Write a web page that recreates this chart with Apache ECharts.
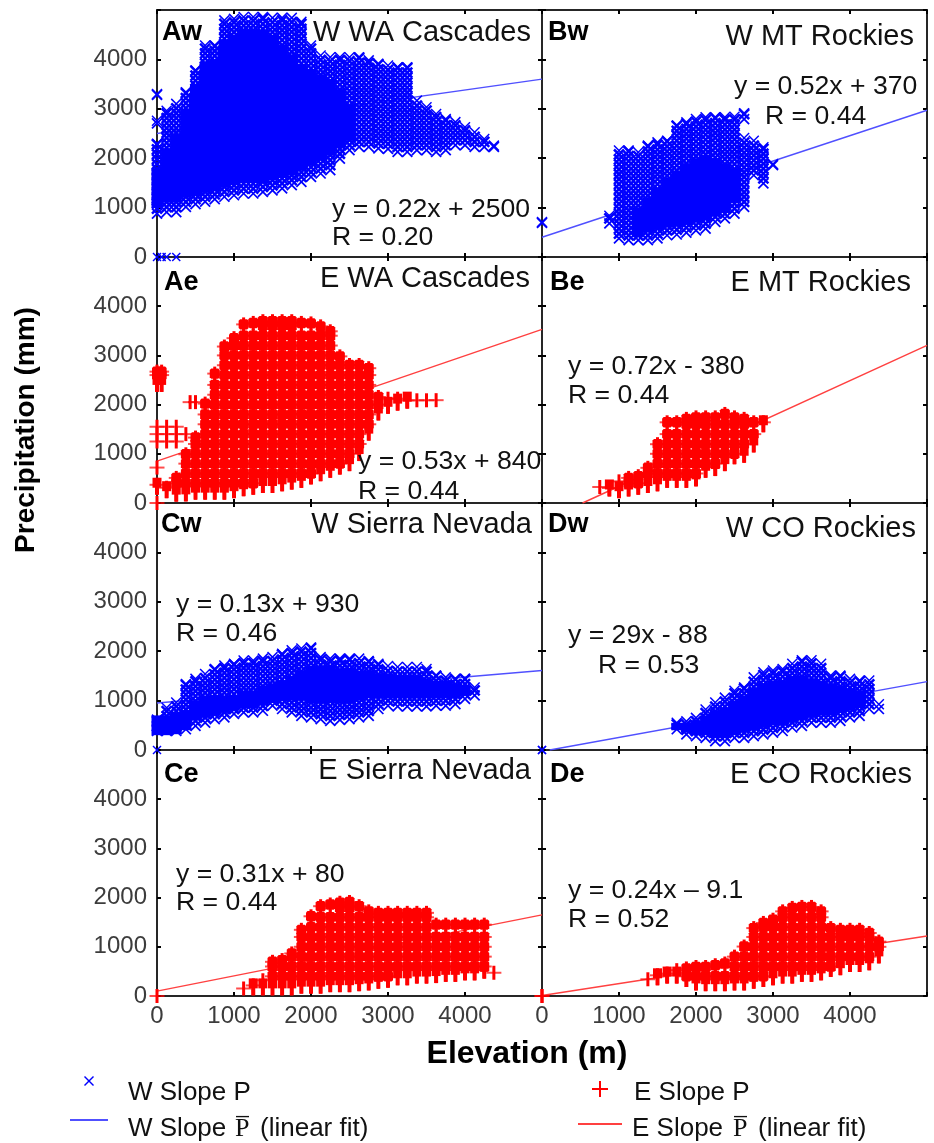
<!DOCTYPE html>
<html><head><meta charset="utf-8">
<style>html,body{margin:0;padding:0;background:#fff}#c{width:934px;height:1143px}</style>
<script src="https://cdn.jsdelivr.net/npm/echarts@6/dist/echarts.min.js"></script>
</head><body><div id="c"></div>
<script>
// Column envelopes: [elevation, low P, high P, solid-core low, solid-core high]
const Aw_cols=[[0,790,2380,1000,1800],[0,2615,2850],[0,3190,3390],[0,0,0],[60,0,0],[125,0,0],[250,0,0],
[125,820,3050,1100,2200],[250,820,3190,1100,2500],[375,925,3425,1200,3000],[500,980,3865,1250,3500],[625,1030,4370,1300,3950],[750,1080,4370,1350,4000],[875,1130,4880,1400,4400],[1000,1160,4910,1450,4500],[1125,1195,4950,1500,4600],[1250,1195,4950,1500,4600],[1375,1230,4950,1500,4600],[1500,1260,4930,1550,4500],[1625,1300,4930,1600,4300],[1750,1365,4930,1650,4100],[1875,1430,4850,1750,3900],[2000,1530,4370,1850,3800],[2125,1600,4170,1950,3700],[2250,1670,4135,2050,3600],[2375,1900,4135,2200,3400],[2500,2075,4135,2350,3100],[2625,2140,4135],[2750,2140,4070],[2875,2110,4000],[3000,2100,3965],[3125,2040,3930],[3250,2040,3930],[3375,2075,3255],[3500,2075,3120],[3625,2040,2985],[3750,2075,2885],[3875,2175,2820],[4000,2175,2715],[4125,2140,2615],[4250,2140,2480],[4375,2140,2345]];
const Bw_cols=[[0,600,800],[875,590,925],[1000,285,2245],[1125,250,2245],[1250,250,2210,400,1000],[1375,250,2345,500,1200],[1500,285,2410,550,1400],[1625,350,2445,600,1600],[1750,365,2750,620,1750],[1875,405,2815,650,1900],[2000,450,2885,700,2000],[2125,485,2920,750,2050],[2250,620,2920,820,2000],[2375,690,2920,900,1900],[2500,790,2930,1100,1800],[2625,925,2500],[2625,2700,3000],[2750,1565,2445],[2875,1400,2310],[3000,1770,1970]];
const Ae_cols=[[0,2260,2810],[60,2260,2810],[0,1550,1550],[0,1400,1400],[0,1250,1250],[0,580,860],[0,170,510],[0,0,0],[125,1550,1550],[125,1400,1400],[125,1250,1250],[125,100,450],[250,1550,1550],[250,1400,1400],[250,1250,1250],[250,30,650],[375,35,1130],[375,1400,1400],[430,2050,2050],[500,70,1470],[500,1950,2150],[625,70,2160],[750,70,2770],[875,70,3320],[1000,100,3490],[1125,140,3770],[1250,170,3800],[1375,205,3835],[1500,205,3835],[1625,240,3835],[1750,275,3835],[1875,310,3800],[2000,380,3790],[2125,445,3730],[2250,515,3630],[2375,580,3120],[2500,650,2945],[2625,855,2945],[2750,1270,2880],[2875,1680,2295],[3000,1815,2260],[3125,1880,2260],[3250,1920,2225],[3375,1950,2225],[3500,1950,2225],[3625,1990,2190]];
const Be_cols=[[750,240,410],[875,135,445],[1000,100,580],[1125,135,650],[1250,170,685],[1375,205,855],[1500,240,1335],[1625,310,1780],[1750,310,1780],[1875,310,1850],[2000,340,1880],[2125,515,1880],[2250,550,1880],[2375,650,1950],[2500,790,1880],[2625,820,1850],[2750,1030,1780],[2875,1440,1780]];
const Cw_cols=[[0,0,0],[5000,0,0],[0,295,705,300,700],[125,295,945,300,700],[250,295,1050,320,750],[375,330,1425,400,800],[500,400,1530,600,1000],[625,465,1630,650,1100],[750,535,1730,700,1100],[875,570,1800,750,1100],[1000,640,1835,800,1100],[1125,670,1900,850,1200],[1250,670,1900,850,1200],[1375,705,1940,900,1300],[1500,810,1970,950,1350],[1625,740,2040,1000,1400],[1750,670,2110,1000,1500],[1875,600,2145,1000,1600],[2000,570,2165,950,1700],[2125,535,1970,950,1700],[2250,500,1940,950,1700],[2375,520,1940,950,1650],[2500,535,1940,950,1650],[2625,570,1940,1000,1600],[2750,600,1890,1050,1600],[2875,740,1835,1050,1550],[3000,810,1790,1050,1550],[3125,795,1770,1050,1500],[3250,795,1770,1050,1500],[3375,795,1770,1050,1500],[3500,795,1730,1050,1450],[3625,810,1595,1050,1400],[3750,810,1560,1050,1400],[3875,840,1530,1050,1350],[4000,945,1530,1100,1300],[4125,1015,1355]];
const Dw_cols=[[0,0,0],[1750,330,640,400,550],[1875,225,670,350,550],[2000,190,740,300,600],[2125,155,910,300,700],[2250,90,1050,250,800],[2375,90,1150,250,850],[2500,155,1290,300,1000],[2625,155,1355,350,1100],[2750,190,1560,400,1250],[2875,225,1665,450,1350],[3000,260,1700,500,1400],[3125,295,1730,500,1400],[3250,365,1835,550,1500],[3375,400,1905,600,1500],[3500,465,1905,650,1450],[3625,465,1835,700,1400],[3750,465,1595,700,1350],[3875,500,1595,750,1300],[4000,570,1530,800,1250],[4125,600,1495,850,1200],[4250,740,1495],[4375,740,1015]];
const Ce_cols=[[0,0,0],[5000,0,0],[1125,50,255],[1250,15,355],[1375,15,460],[1500,15,835],[1625,15,870],[1750,15,1005],[1875,50,1485],[2000,50,1760],[2125,50,1965],[2250,80,2000],[2375,80,2035],[2500,80,2050],[2625,100,1965],[2750,115,1860],[2875,150,1830],[3000,170,1830],[3125,220,1830],[3250,220,1830],[3375,255,1830],[3500,255,1830],[3625,265,1590],[3750,290,1590],[3875,290,1590],[4000,320,1590],[4125,320,1590],[4250,355,1590],[4375,420,525]];
const De_cols=[[0,0,0],[1375,220,460],[1500,220,560],[1625,255,595],[1750,255,665],[1875,185,700],[2000,115,730],[2125,100,730],[2250,100,765],[2375,100,800],[2500,115,940],[2625,115,1145],[2750,150,1520],[2875,185,1625],[3000,220,1690],[3125,255,1860],[3250,255,1930],[3375,290,1950],[3500,290,1950],[3625,320,1860],[3750,390,1520],[3875,425,1485],[4000,490,1485],[4125,490,1485],[4250,525,1420],[4375,665,1245]];
// Fit lines
const Aw_fit=[[0,2500],[5000,3600]];
const Bw_fit=[[0,400],[5000,2970]];
const Ae_fit=[[0,850],[5000,3530]];
const Be_fit=[[527,0],[5000,3205]];
const Cw_fit=[[0,950],[5000,1610]];
const Dw_fit=[[100,0],[5000,1385]];
const Ce_fit=[[0,100],[5000,1650]];
const De_fit=[[0,10],[5000,1220]];

const W_SCATTER='W Slope P', E_SCATTER='E Slope P', W_FIT='W Slope fit', E_FIT='E Slope fit';
const BLUE='#0000ff', RED='#ff0000', BLUE_L='#5050ff', RED_L='#ff4040', FRAME='#262626';
const FONT='"Liberation Sans", Arial, sans-serif';
const X_ICON='path://M0 1L1 0L5 4L9 0L10 1L6 5L10 9L9 10L5 6L1 10L0 9L4 5Z';
const P_ICON='path://M7 0H9V7H16V9H9V16H7V9H0V7H7Z';

const panels=[
 {cols:Aw_cols,fit:Aw_fit,w:true},{cols:Bw_cols,fit:Bw_fit,w:true},
 {cols:Ae_cols,fit:Ae_fit,w:false},{cols:Be_cols,fit:Be_fit,w:false},
 {cols:Cw_cols,fit:Cw_fit,w:true},{cols:Dw_cols,fit:Dw_fit,w:true},
 {cols:Ce_cols,fit:Ce_fit,w:false},{cols:De_cols,fit:De_fit,w:false}];
const lefts=[157,542], tops=[10,257,503,750], gw=385, gh=[247,246,247,246];

function xGlyph(c,s,wd,col){
  return [{type:'line',shape:{x1:c[0]-s,y1:c[1]-s,x2:c[0]+s,y2:c[1]+s},style:{stroke:col,lineWidth:wd}},
          {type:'line',shape:{x1:c[0]-s,y1:c[1]+s,x2:c[0]+s,y2:c[1]-s},style:{stroke:col,lineWidth:wd}}];
}
function renderWest(p,api){
  const x=api.value(0),lo=api.value(1),hi=api.value(2),cl=api.value(3),ch=api.value(4);
  const kids=[];
  if(lo===hi){return {type:'group',children:xGlyph(api.coord([x,lo]),4,1.4,BLUE)};}
  const a=lo+90,b=hi-90;
  if(hi-lo<=180){kids.push(...xGlyph(api.coord([x,(lo+hi)/2]),5,1.7,BLUE));}
  else{
    for(let y=a;y<b;y+=100){
      const edge=(y===a);
      kids.push(...xGlyph(api.coord([x,y]),5,edge?1.7:2.5,BLUE));
    }
    kids.push(...xGlyph(api.coord([x,b]),5,1.5,BLUE));
  }
  if(cl===cl&&ch===ch&&cl!=null&&ch!=null){
    const t=api.coord([x,ch]),bt=api.coord([x,cl]);
    kids.push({type:'rect',shape:{x:t[0]-5.5,y:t[1],width:11,height:bt[1]-t[1]},style:{fill:BLUE}});
  }
  return {type:'group',children:kids};
}
function plus(c,col,armOnly){
  const out=[{type:'rect',shape:{x:c[0]-1.5,y:c[1]-7,width:3,height:14},style:{fill:col}}];
  if(!armOnly) out.push({type:'rect',shape:{x:c[0]-7.5,y:c[1]-1,width:15,height:2},style:{fill:col,opacity:.7}});
  return out;
}
function renderEast(p,api){
  const x=api.value(0),lo=api.value(1),hi=api.value(2);
  if(lo===hi){return {type:'group',children:plus(api.coord([x,lo]),RED)};}
  const a=lo+140,b=hi-140,rows=[];
  if(b<=a){rows.push((lo+hi)/2);}
  else{
    rows.push(a);
    for(let y=Math.ceil(a/200)*200;y<b;y+=200){ if(y-a>60&&b-y>60) rows.push(y); }
    rows.push(b);
  }
  const kids=[];
  rows.forEach((y,i)=>{
    const c=api.coord([x,y]);
    const bottom=(i===0&&rows.length>1);
    kids.push(...plus(c,RED,bottom));
    if(bottom){
      kids.push({type:'rect',shape:{x:c[0]-2,y:c[1]-8,width:4,height:15},style:{fill:RED}});
      kids.push({type:'rect',shape:{x:c[0]-4.5,y:c[1]-10,width:9,height:10},style:{fill:RED}});
    }
    if(i>0&&rows.length>2){
      const h=5.2,w=5,k=1.5;
      kids.push({type:'polygon',shape:{points:[[c[0]-w+k,c[1]-h],[c[0]+w-k,c[1]-h],[c[0]+w,c[1]-h+k],[c[0]+w,c[1]+h-k],[c[0]+w-k,c[1]+h],[c[0]-w+k,c[1]+h],[c[0]-w,c[1]+h-k],[c[0]-w,c[1]-h+k]]},style:{fill:RED}});
    }
  });
  return {type:'group',children:kids};
}

const grid=[],xAxis=[],yAxis=[],series=[];
const axisLine={show:true,onZero:false,lineStyle:{color:FRAME,width:2}};
const tick={show:true,inside:true,length:4,lineStyle:{color:'#000',width:2}};
const lbl={fontFamily:FONT,fontSize:24,color:'#3c3c3c'};
panels.forEach((pn,i)=>{
  const col=i%2,row=(i-col)/2;
  grid.push({left:lefts[col],top:tops[row],width:gw,height:gh[row],show:false});
  const xa={gridIndex:i,type:'value',min:0,max:5000,interval:1000,axisLine,axisTick:tick,splitLine:{show:false}};
  const ya={gridIndex:i,type:'value',min:0,max:5000,interval:1000,axisLine,axisTick:tick,splitLine:{show:false}};
  xAxis.push({...xa,position:'bottom',axisLabel:{show:row===3,margin:8,...lbl,formatter:v=>v===5000?'':String(v),hideOverlap:false}});
  xAxis.push({...xa,position:'top',axisLabel:{show:false}});
  yAxis.push({...ya,position:'left',axisLabel:{show:col===0,margin:10,...lbl,padding:[6,0,0,0],formatter:v=>v===5000?'':String(v)}});
  yAxis.push({...ya,position:'right',axisLabel:{show:false}});
  const xi=i*2,yi=i*2;
  series.push({name:pn.w?W_FIT:E_FIT,type:'line',xAxisIndex:xi,yAxisIndex:yi,data:pn.fit,showSymbol:false,symbol:'none',z:1,silent:true,
    lineStyle:{color:pn.w?BLUE_L:RED_L,width:1.4},itemStyle:{color:pn.w?BLUE_L:RED_L}});
  series.push({name:pn.w?W_SCATTER:E_SCATTER,type:'custom',xAxisIndex:xi,yAxisIndex:yi,data:pn.cols,z:2,silent:true,
    dimensions:['elev','lo','hi','coreLo','coreHi'],encode:{x:0,y:[1,2]},renderItem:pn.w?renderWest:renderEast,
    itemStyle:{color:pn.w?BLUE:RED},clip:false});
});

function T(text,x,y,o){
  return Object.assign({type:'text',x:x,y:y+2,silent:true,z:10,style:Object.assign({text:text,fill:'#111',font:'26.6px '+FONT,textAlign:'left',textVerticalAlign:'middle'},o&&o.style)},o&&o.el);
}
const B={style:{font:'bold 27px '+FONT,fill:'#000'}}, TT={style:{font:'29px '+FONT,textAlign:'right'}};
const LF={style:{font:'26px '+FONT}}, LP={style:{font:'26px "Liberation Serif", serif'}};
const graphic=[
 T('Aw',162,31,B),T('W WA Cascades',531,31,TT),T('y = 0.22x + 2500',332,208),T('R = 0.20',332,236),
 T('Bw',548,31,B),T('W MT Rockies',914,35,TT),T('y = 0.52x + 370',734,85),T('R = 0.44',765,115),
 T('Ae',164,281,B),T('E WA Cascades',530,277,TT),T('y = 0.53x + 840',358,460),T('R = 0.44',358,490),
 T('Be',550,281,B),T('E MT Rockies',911,281,TT),T('y = 0.72x - 380',568,365),T('R = 0.44',568,394),
 T('Cw',161,523,B),T('W Sierra Nevada',532,523,TT),T('y = 0.13x + 930',176,603),T('R = 0.46',176,632),
 T('Dw',548,523,B),T('W CO Rockies',916,527,TT),T('y = 29x - 88',568,634),T('R = 0.53',598,664),
 T('Ce',164,773,B),T('E Sierra Nevada',531,769,TT),T('y = 0.31x + 80',176,873),T('R = 0.44',176,901),
 T('De',550,773,B),T('E CO Rockies',912,773,TT),T('y = 0.24x \u2013 9.1',568,889),T('R = 0.52',568,918),
 T('Precipitation (mm)',26,428,{style:{font:'bold 28px '+FONT,fill:'#000',textAlign:'center'},el:{rotation:Math.PI/2}}),
 T('Elevation (m)',527,1052,{style:{font:'bold 32px '+FONT,fill:'#000',textAlign:'center'}}),
 T('W Slope P',128,1091,LF),
 T('E Slope P',634,1091,LF),
 T('W Slope',128,1127,LF),
 T('E Slope',632,1127,LF),
 T('P\u0305',235,1127,LP),
 T('P\u0305',733,1127,LP),
 T('(linear fit)',260,1127,LF),
 T('(linear fit)',758,1127,LF)
];
const noText=()=>'';
const legend=[
 {left:70,top:1076,itemWidth:38,itemHeight:10,data:[{name:W_SCATTER,icon:X_ICON}],formatter:noText,selectedMode:false,padding:0,itemGap:0},
 {left:581,top:1081,itemWidth:38,itemHeight:16,data:[{name:E_SCATTER,icon:P_ICON}],formatter:noText,selectedMode:false,padding:0,itemGap:0},
 {left:70,top:1119,itemWidth:38,itemHeight:2,data:[{name:W_FIT,icon:'rect'}],formatter:noText,selectedMode:false,padding:0,itemGap:0},
 {left:578,top:1123,itemWidth:44,itemHeight:2,data:[{name:E_FIT,icon:'rect'}],formatter:noText,selectedMode:false,padding:0,itemGap:0}
];
const chart=echarts.init(document.getElementById('c'),null,{renderer:'canvas'});
chart.setOption({animation:false,backgroundColor:'#fff',grid,xAxis,yAxis,series,graphic,legend,tooltip:{show:false}});
</script></body></html>
